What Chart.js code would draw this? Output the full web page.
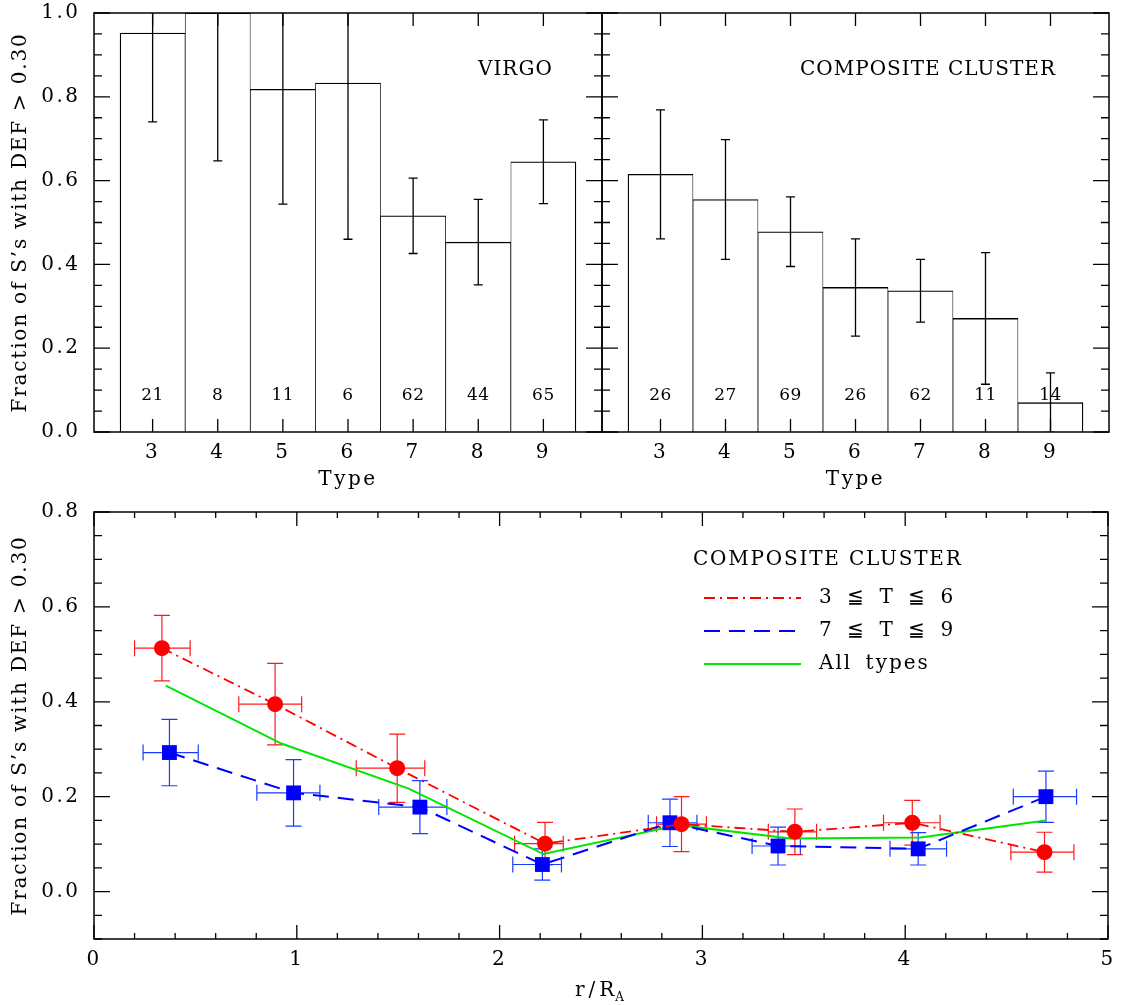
<!DOCTYPE html>
<html>
<head>
<meta charset="utf-8">
<title>Fraction of deficient spirals</title>
<script src="https://cdn.jsdelivr.net/npm/chart.js@4.4.1/dist/chart.umd.min.js"></script>
<style>
  body { margin: 0; background: #fff; }
  #fig { position: relative; width: 1125px; height: 1005px; background: #fff; }
  #fig canvas { position: absolute; }
</style>
</head>
<body>
<div id="fig">
  <canvas id="virgo" width="604" height="500" style="left:0;top:0"></canvas>
  <canvas id="composite" width="525" height="500" style="left:600px;top:0"></canvas>
  <canvas id="radial" width="1125" height="505" style="left:0;top:500px"></canvas>
</div>
<script>
// morphological type bins (top panels)
const types = [3, 4, 5, 6, 7, 8, 9];
const virgoFrac = [0.952, 1.0, 0.818, 0.833, 0.516, 0.453, 0.645];
const virgoErr = [0.212, 0.353, 0.274, 0.373, 0.090, 0.102, 0.100];
const virgoN = [21, 8, 11, 6, 62, 44, 65];
const compFrac = [0.615, 0.555, 0.478, 0.345, 0.337, 0.271, 0.070];
const compErr = [0.154, 0.143, 0.083, 0.116, 0.075, 0.157, 0.071];
const compN = [26, 27, 69, 26, 62, 11, 14];
const fracTicks = [0, 0.2, 0.4, 0.6, 0.8, 1.0];

// radial profiles (bottom panel)
const earlyR = [0.335, 0.893, 1.495, 2.224, 2.897, 3.456, 4.035, 4.687];
const earlyRLo = [0.200, 0.714, 1.293, 2.074, 2.774, 3.325, 3.893, 4.521];
const earlyRHi = [0.474, 1.024, 1.631, 2.314, 3.020, 3.563, 4.172, 4.832];
const earlyFrac = [0.513, 0.395, 0.260, 0.101, 0.142, 0.126, 0.145, 0.083];
const earlyErr = [0.069, 0.086, 0.072, 0.045, 0.058, 0.048, 0.047, 0.042];

const lateR = [0.372, 0.984, 1.607, 2.211, 2.840, 3.373, 4.064, 4.694];
const lateRLo = [0.242, 0.803, 1.404, 2.065, 2.733, 3.245, 3.925, 4.533];
const lateRHi = [0.514, 1.114, 1.740, 2.305, 2.973, 3.483, 4.204, 4.845];
const lateFrac = [0.293, 0.208, 0.178, 0.057, 0.145, 0.096, 0.090, 0.200];
const lateErr = [0.070, 0.070, 0.056, 0.033, 0.050, 0.040, 0.034, 0.054];

const allR = [0.354, 0.924, 1.552, 2.216, 2.884, 3.435, 4.075, 4.694];
const allFrac = [0.434, 0.312, 0.217, 0.079, 0.140, 0.112, 0.114, 0.150];

const radiusTicks = [0, 1, 2, 3, 4, 5];
const radialFracTicks = [0, 0.2, 0.4, 0.6, 0.8];

const FONT = "'DejaVu Serif', serif";
const YTITLE = 'Fraction of S\u2019s with DEF > 0.30';
Chart.defaults.font.family = FONT;
Chart.defaults.color = '#000';

function fixTicks(values) {
  return scale => { scale.ticks = values.map(v => ({ value: v })); };
}

// pin an axis to a fixed size and stop its labels from pushing the plot area
function fixSize(size) {
  return s => {
    if (s.isHorizontal()) s.height = size; else s.width = size;
    s.paddingTop = s.paddingBottom = s.paddingLeft = s.paddingRight = 0;
  };
}

// wide-set lettering for the axis numbers and titles drawn by Chart.js
const spacing = {
  id: 'spacing',
  beforeDraw(chart) { chart.ctx.letterSpacing = '2.5px'; }
};

function tickMarks(scale, minorStep) {
  const majors = scale.ticks.map(t => t.value);
  const marks = majors.map(v => ({ value: v, major: true }));
  if (minorStep) {
    const k0 = Math.ceil(scale.min / minorStep - 1e-9);
    const k1 = Math.floor(scale.max / minorStep + 1e-9);
    for (let k = k0; k <= k1; k++) {
      const v = k * minorStep;
      if (!majors.some(m => Math.abs(m - v) < 1e-9)) marks.push({ value: v, major: false });
    }
  }
  return marks;
}

// box around the plot area with inward ticks on all four sides
function framePlugin(o) {
  return {
    id: 'frame',
    afterDraw(chart) {
      const { ctx, chartArea: a, scales: { x, y } } = chart;
      ctx.save();
      ctx.strokeStyle = '#000';
      ctx.lineWidth = 1.3;
      ctx.beginPath();
      for (const m of tickMarks(x, o.xMinor)) {
        const px = x.getPixelForValue(m.value);
        const len = m.major ? o.xMajor : o.xMinorLen;
        ctx.moveTo(px, a.bottom); ctx.lineTo(px, a.bottom - len);
        ctx.moveTo(px, a.top); ctx.lineTo(px, a.top + len);
      }
      for (const m of tickMarks(y, o.yMinor)) {
        const py = y.getPixelForValue(m.value);
        const len = m.major ? o.yMajor : o.yMinorLen;
        ctx.moveTo(a.left, py); ctx.lineTo(a.left + len, py);
        ctx.moveTo(a.right, py); ctx.lineTo(a.right - len, py);
      }
      ctx.stroke();
      ctx.lineWidth = 1.5;
      ctx.strokeRect(a.left, a.top, a.right - a.left, a.bottom - a.top);
      ctx.restore();
    }
  };
}

function drawText(ctx, text, x, y, size, spacing, align) {
  ctx.font = size + 'px ' + FONT;
  ctx.letterSpacing = spacing + 'px';
  ctx.textAlign = align || 'left';
  ctx.textBaseline = 'middle';
  ctx.fillStyle = '#000';
  ctx.fillText(text, x, y);
}

function drawYTitle(ctx, a) {
  ctx.save();
  ctx.translate(21, (a.top + a.bottom) / 2);
  ctx.rotate(-Math.PI / 2);
  drawText(ctx, YTITLE, 0, 0, 20, 1.8, 'center');
  ctx.restore();
}

// error bars, galaxy counts and the panel name for a type histogram
function histExtras(o) {
  return {
    id: 'histExtras',
    afterDatasetsDraw(chart) {
      const { ctx, chartArea: a, scales: { x, y } } = chart;
      ctx.save();
      ctx.beginPath();
      ctx.rect(a.left, a.top, a.right - a.left, a.bottom - a.top);
      ctx.clip();
      ctx.strokeStyle = '#000';
      ctx.lineWidth = 1.3;
      ctx.beginPath();
      o.frac.forEach((v, i) => {
        const px = x.getPixelForValue(types[i]);
        const hi = y.getPixelForValue(v + o.err[i]);
        const lo = y.getPixelForValue(v - o.err[i]);
        ctx.moveTo(px, hi); ctx.lineTo(px, lo);
        ctx.moveTo(px - 4.5, hi); ctx.lineTo(px + 4.5, hi);
        ctx.moveTo(px - 4.5, lo); ctx.lineTo(px + 4.5, lo);
      });
      ctx.stroke();
      ctx.restore();

      ctx.save();
      o.counts.forEach((n, i) => {
        drawText(ctx, String(n), x.getPixelForValue(types[i]), a.bottom - 36, 17, 0.5, 'center');
      });
      drawText(ctx, o.name, a.left + o.nameX, a.top + 57, 20, 1, 'left');
      if (o.yTitle) drawYTitle(ctx, a);
      ctx.restore();
    }
  };
}

function typeAxis() {
  return {
    type: 'linear', min: 2.1, max: 9.9, offset: false,
    afterBuildTicks: fixTicks(types),
    afterFit: fixSize(68),
    grid: { display: false, drawTicks: false, offset: false },
    border: { display: false },
    ticks: { autoSkip: false, maxRotation: 0, padding: 11, color: '#000',
             font: { size: 20, lineHeight: 1 }, callback: v => String(v) },
    title: { display: true, text: 'Type', color: '#000',
             font: { size: 20, lineHeight: 1.2 }, padding: { top: 0, bottom: 8 } }
  };
}

function fracAxis(shown) {
  return {
    min: 0, max: 1, display: shown,
    afterBuildTicks: fixTicks(fracTicks),
    afterFit: fixSize(shown ? 94 : 0),
    grid: { display: false, drawTicks: false },
    border: { display: false },
    ticks: { autoSkip: false, padding: 13.5, color: '#000',
             font: { size: 20, lineHeight: 1 }, callback: v => v.toFixed(1) }
  };
}

function histogram(id, frac, err, counts, name, nameX, showY, padding) {
  const last = types.length - 1;
  return new Chart(document.getElementById(id), {
    type: 'bar',
    data: {
      datasets: [{
        data: types.map((t, i) => ({ x: t, y: frac[i] })),
        backgroundColor: '#fff',
        borderColor: '#000',
        borderSkipped: false,
        // neighbouring bars share an edge, so each side gets half a line
        borderWidth: c => ({
          top: 1.3, bottom: 0,
          left: c.dataIndex === 0 ? 1.3 : 0.75,
          right: c.dataIndex === last ? 1.3 : 0.75
        }),
        barPercentage: 1,
        categoryPercentage: 1
      }]
    },
    options: {
      responsive: false,
      animation: false,
      events: [],
      layout: { padding },
      plugins: { legend: { display: false }, tooltip: { enabled: false } },
      scales: { x: typeAxis(), y: fracAxis(showY) }
    },
    plugins: [
      spacing,
      framePlugin({ xMinor: null, xMajor: 13, yMinor: 0.05, yMajor: 16, yMinorLen: 8 }),
      histExtras({ frac, err, counts, name, nameX, yTitle: showY })
    ]
  });
}

histogram('virgo', virgoFrac, virgoErr, virgoN, 'VIRGO', 384, true,
          { top: 13, right: 2, bottom: 0, left: 0 });
histogram('composite', compFrac, compErr, compN, 'COMPOSITE CLUSTER', 198, false,
          { top: 13, right: 16, bottom: 0, left: 2 });

// error bars, legend and axis titles for the radial panel
const radialExtras = {
  id: 'radialExtras',
  beforeDatasetsDraw(chart) {
    const { ctx, scales: { x, y } } = chart;
    const series = [
      { r: earlyR, lo: earlyRLo, hi: earlyRHi, f: earlyFrac, e: earlyErr, color: '#ff1a1a' },
      { r: lateR, lo: lateRLo, hi: lateRHi, f: lateFrac, e: lateErr, color: '#1a3cff' }
    ];
    ctx.save();
    ctx.lineWidth = 1.2;
    for (const s of series) {
      ctx.strokeStyle = s.color;
      ctx.beginPath();
      s.r.forEach((r, i) => {
        const px = x.getPixelForValue(r);
        const py = y.getPixelForValue(s.f[i]);
        const top = y.getPixelForValue(s.f[i] + s.e[i]);
        const bot = y.getPixelForValue(s.f[i] - s.e[i]);
        const l = x.getPixelForValue(s.lo[i]);
        const rr = x.getPixelForValue(s.hi[i]);
        ctx.moveTo(px, top); ctx.lineTo(px, bot);
        ctx.moveTo(px - 8, top); ctx.lineTo(px + 8, top);
        ctx.moveTo(px - 8, bot); ctx.lineTo(px + 8, bot);
        ctx.moveTo(l, py); ctx.lineTo(rr, py);
        ctx.moveTo(l, py - 8); ctx.lineTo(l, py + 8);
        ctx.moveTo(rr, py - 8); ctx.lineTo(rr, py + 8);
      });
      ctx.stroke();
    }
    ctx.restore();
  },
  afterDraw(chart) {
    const { ctx, chartArea: a } = chart;
    ctx.save();
    drawText(ctx, 'COMPOSITE CLUSTER', a.left + 599, a.top + 48, 20, 1.8, 'left');
    chart.data.datasets.forEach((ds, i) => {
      const ly = a.top + 86 + i * 33;
      ctx.save();
      ctx.strokeStyle = ds.borderColor;
      ctx.lineWidth = ds.borderWidth;
      ctx.setLineDash(ds.borderDash || []);
      ctx.beginPath();
      ctx.moveTo(a.left + 610, ly);
      ctx.lineTo(a.left + 707, ly);
      ctx.stroke();
      ctx.restore();
      ctx.wordSpacing = '5px';
      drawText(ctx, ds.label, a.left + 725, ly, 20, 2, 'left');
      ctx.wordSpacing = '0px';
    });
    drawYTitle(ctx, a);

    // r/R_A under the x axis
    const cx = (a.left + a.right) / 2;
    ctx.font = '20px ' + FONT;
    ctx.letterSpacing = '4px';
    const w1 = ctx.measureText('r/R').width;
    ctx.font = '12px ' + FONT;
    ctx.letterSpacing = '0px';
    const w2 = ctx.measureText('A').width;
    const x0 = cx - (w1 + w2) / 2;
    drawText(ctx, 'r/R', x0, a.bottom + 52, 20, 4, 'left');
    drawText(ctx, 'A', x0 + w1 - 3, a.bottom + 59, 12, 0, 'left');
    ctx.restore();
  }
};

new Chart(document.getElementById('radial'), {
  type: 'line',
  data: {
    datasets: [
      {
        label: '3 \u2266 T \u2266 6',
        data: earlyR.map((r, i) => ({ x: r, y: earlyFrac[i] })),
        borderColor: '#ff0000', backgroundColor: '#ff0000',
        borderWidth: 1.8, borderDash: [11, 5, 2, 5],
        pointStyle: 'circle', pointRadius: 8, pointBorderWidth: 0
      },
      {
        label: '7 \u2266 T \u2266 9',
        data: lateR.map((r, i) => ({ x: r, y: lateFrac[i] })),
        borderColor: '#0000ff', backgroundColor: '#0000ff',
        borderWidth: 2, borderDash: [16, 9],
        pointStyle: 'rect', pointRadius: 10.5, pointBorderWidth: 0
      },
      {
        label: 'All types',
        data: allR.map((r, i) => ({ x: r, y: allFrac[i] })),
        borderColor: 'rgb(0,230,0)', backgroundColor: 'rgb(0,230,0)',
        borderWidth: 2, pointRadius: 0
      }
    ]
  },
  options: {
    responsive: false,
    animation: false,
    events: [],
    layout: { padding: { top: 12, right: 17, bottom: 0, left: 0 } },
    plugins: { legend: { display: false }, tooltip: { enabled: false } },
    elements: { line: { tension: 0 } },
    scales: {
      x: {
        type: 'linear', min: 0, max: 5,
        afterBuildTicks: fixTicks(radiusTicks),
        afterFit: fixSize(66),
        grid: { display: false, drawTicks: false },
        border: { display: false },
        ticks: { autoSkip: false, maxRotation: 0, padding: 11, color: '#000',
                 font: { size: 20, lineHeight: 1 }, callback: v => String(v) }
      },
      y: {
        min: -0.1, max: 0.8,
        afterBuildTicks: fixTicks(radialFracTicks),
        afterFit: fixSize(94),
        grid: { display: false, drawTicks: false },
        border: { display: false },
        ticks: { autoSkip: false, padding: 13.5, color: '#000',
                 font: { size: 20, lineHeight: 1 }, callback: v => v.toFixed(1) }
      }
    }
  },
  plugins: [
    spacing,
    framePlugin({ xMinor: 0.2, xMajor: 14, xMinorLen: 6, yMinor: 0.05, yMajor: 16, yMinorLen: 8 }),
    radialExtras
  ]
});
</script>
</body>
</html>
